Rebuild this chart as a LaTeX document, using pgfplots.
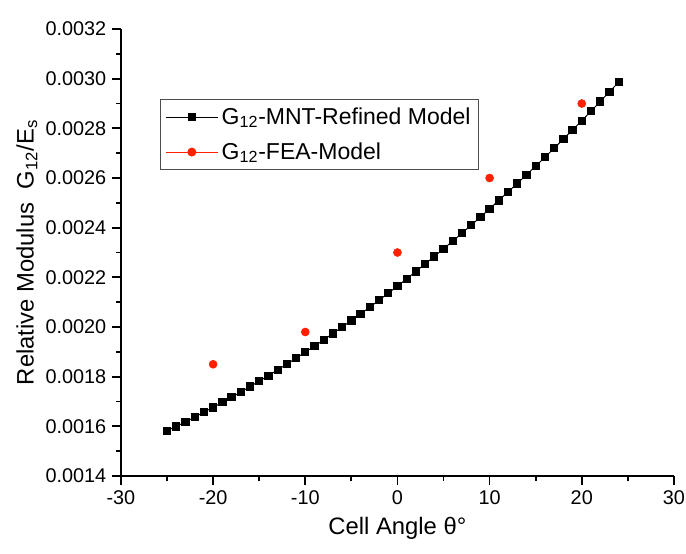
\documentclass[border=0pt]{standalone}
\usepackage{fontspec}
\setmainfont{Liberation Sans}
\usepackage{pgfplots}
\pgfplotsset{compat=1.18}
\definecolor{fea}{RGB}{255,32,0}
\begin{document}
\begin{tikzpicture}
\begin{axis}[
    scale only axis, width=348.4pt, height=281.6pt,
    xmin=-30, xmax=30, ymin=0.0014, ymax=0.0032,
    axis lines=left, axis line style={-, line width=1.1pt},
    xtick={-30,-20,-10,0,10,20,30},
    ytick={0.0014,0.0016,0.0018,0.0020,0.0022,0.0024,0.0026,0.0028,0.0030,0.0032},
    minor x tick num=1, minor y tick num=1,
    tick align=outside, major tick length=5.7pt, minor tick length=3pt,
    tick style={line width=1.1pt, black},
    scaled y ticks=false,
    yticklabel style={/pgf/number format/.cd, fixed, fixed zerofill, precision=4},
    /pgf/number format/assume math mode=true,
    ticklabel style={font=\fontsize{12.5}{14}\selectfont},
    xlabel={Cell Angle θ°},
    ylabel={Relative Modulus\ \ G\textsubscript{12}/E\textsubscript{s}},
    label style={font=\fontsize{15}{18}\selectfont},
    xlabel style={at={(axis description cs:0.5,-0.1163)}, anchor=center},
    ylabel style={at={(axis description cs:-0.1700,0.5)}, anchor=center},
    legend style={at={(0.0705,0.843)}, anchor=north west, draw=black!70, line width=0.6pt,
        font=\fontsize{14.5}{17}\selectfont, row sep=6pt, inner sep=3pt},
    legend cell align=left,
    ]
    \addplot[black, line width=0.6pt, mark=square*, mark size=2.3pt,
        legend image code/.code={\draw[black, line width=0.6pt] (0pt,0pt)--(33pt,0pt); \fill[black] (14.2pt,-2.3pt) rectangle (18.8pt,2.3pt);}]
    coordinates {
        (-25,0.001582) (-24,0.001600) (-23,0.001618) (-22,0.001637) (-21,0.001657)
        (-20,0.001676) (-19,0.001697) (-18,0.001717) (-17,0.001738) (-16,0.001760)
        (-15,0.001782) (-14,0.001804) (-13,0.001827) (-12,0.001851) (-11,0.001874)
        (-10,0.001899) (-9,0.001923) (-8,0.001948) (-7,0.001974) (-6,0.002000)
        (-5,0.002026) (-4,0.002053) (-3,0.002080) (-2,0.002108) (-1,0.002136)
        (0,0.002165) (1,0.002194) (2,0.002224) (3,0.002254) (4,0.002284)
        (5,0.002315) (6,0.002346) (7,0.002378) (8,0.002410) (9,0.002443)
        (10,0.002476) (11,0.002510) (12,0.002544) (13,0.002578) (14,0.002613)
        (15,0.002648) (16,0.002684) (17,0.002720) (18,0.002757) (19,0.002794)
        (20,0.002831) (21,0.002869) (22,0.002908) (23,0.002947) (24,0.002986)
    };
    \addlegendentry{G\textsubscript{12}-MNT-Refined Model}
    \addplot[only marks, mark=*, mark size=2.5pt, color=fea,
        legend image code/.code={\draw[fea, line width=0.6pt] (0pt,0pt)--(33pt,0pt); \fill[fea] (16.5pt,0pt) circle (2.5pt);}]
    coordinates {(-20,0.00185) (-10,0.00198) (0,0.00230) (10,0.00260) (20,0.00290)};
    \addlegendentry{G\textsubscript{12}-FEA-Model}
\end{axis}
\pgfresetboundingbox
\useasboundingbox ([shift={(-76.2pt,-49.1pt)}]current axis.south west) rectangle ([shift={(7.6pt,18.3pt)}]current axis.north east);
\end{tikzpicture}
\end{document}
